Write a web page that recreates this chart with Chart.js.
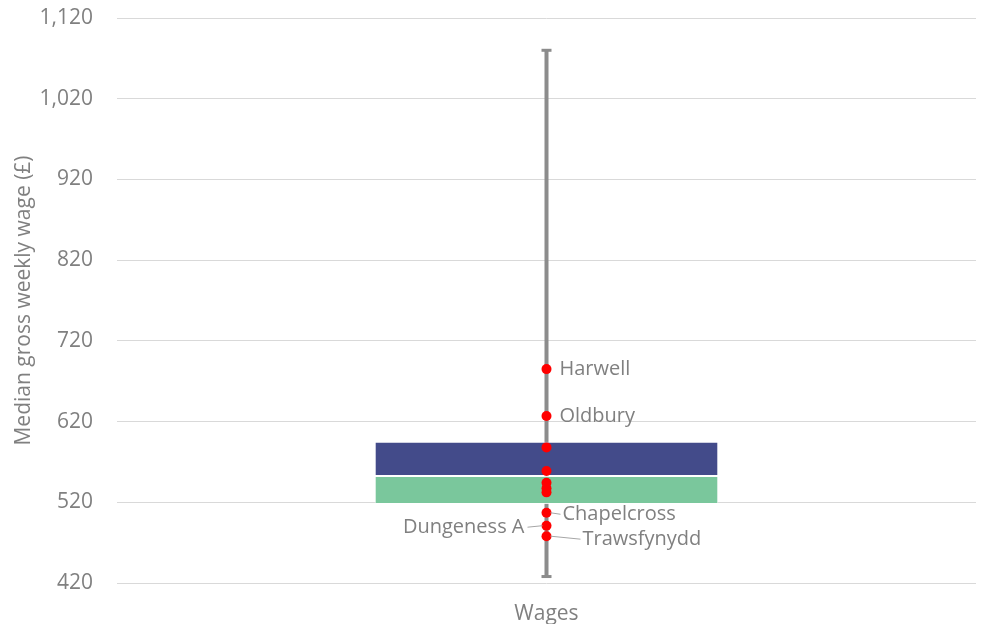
<!DOCTYPE html>
<html>
<head>
<meta charset="utf-8">
<script src="https://cdn.jsdelivr.net/npm/chart.js@4.4.1/dist/chart.umd.min.js"></script>
<style>
    html, body { margin: 0; padding: 0; background: #ffffff; }
    #wrap { width: 983px; height: 626px; position: relative; }
</style>
</head>
<body>
<div id="wrap"><canvas id="wages-chart"></canvas></div>
<script>
    // Data
    const categories = ['Wages'];
    const whiskerLow = 428;
    const whiskerHigh = 1080;
    const quartile1 = 518;
    const medianWage = 552.5;
    const quartile3 = 595;
    const siteWages = [685, 627, 588, 558.7, 544.2, 537.3, 532.3, 507, 491, 478];
    const siteNames = ['Harwell', 'Oldbury', '', '', '', '', '', 'Chapelcross', 'Dungeness A', 'Trawsfynydd'];
    const yTicksMin = 420;
    const yTicksMax = 1120;
    const yTicksStep = 100;

    const textGrey = '#808080';
    const fontFamily = '"Open Sans", sans-serif';

    // Where each site label sits relative to its point
    const labelPlacement = {
        'Harwell': { dx: 13, dy: 0, align: 'left', leader: false },
        'Oldbury': { dx: 13, dy: 0, align: 'left', leader: false },
        'Chapelcross': { dx: 16, dy: 1.5, align: 'left', leader: true },
        'Dungeness A': { dx: -22, dy: 1.5, align: 'right', leader: true },
        'Trawsfynydd': { dx: 36, dy: 3, align: 'left', leader: true }
    };

    const siteLabelPlugin = {
        id: 'siteLabels',
        afterDatasetsDraw(chart) {
            const meta = chart.getDatasetMeta(0);
            const ctx = chart.ctx;
            ctx.save();
            ctx.font = '20px ' + fontFamily;
            ctx.fillStyle = textGrey;
            ctx.textBaseline = 'middle';
            siteNames.forEach((name, i) => {
                if (!name) return;
                const pt = meta.data[i];
                const place = labelPlacement[name];
                const tx = pt.x + place.dx;
                const ty = pt.y + place.dy;
                if (place.leader) {
                    ctx.strokeStyle = '#a6a6a6';
                    ctx.lineWidth = 1;
                    ctx.beginPath();
                    if (place.align === 'left') {
                        ctx.moveTo(pt.x + 4, pt.y);
                        ctx.lineTo(tx - 2, ty);
                    } else {
                        ctx.moveTo(pt.x - 4, pt.y);
                        ctx.lineTo(tx + 3, ty);
                    }
                    ctx.stroke();
                }
                ctx.textAlign = place.align;
                ctx.fillText(name, tx, ty);
            });
            ctx.restore();
        }
    };

    const ctx = document.getElementById('wages-chart').getContext('2d');
    new Chart(ctx, {
        type: 'bar',
        data: {
            labels: categories,
            datasets: [
                {
                    type: 'line',
                    label: 'Sites',
                    data: siteWages.map(v => ({ x: categories[0], y: v })),
                    showLine: false,
                    pointRadius: 5,
                    pointBorderWidth: 0,
                    pointBackgroundColor: '#ff0000',
                    pointBorderColor: '#ff0000',
                    order: 0
                },
                {
                    label: 'Upper',
                    data: [[medianWage, quartile3]],
                    backgroundColor: '#434b8a',
                    borderColor: 'rgba(255,255,255,0.85)',
                    borderWidth: 1,
                    borderSkipped: false,
                    grouped: false,
                    order: 1
                },
                {
                    label: 'Lower',
                    data: [[quartile1, medianWage]],
                    backgroundColor: '#7ac79c',
                    borderColor: 'rgba(255,255,255,0.85)',
                    borderWidth: 1,
                    borderSkipped: false,
                    grouped: false,
                    order: 1
                },
                {
                    type: 'line',
                    label: 'Range',
                    data: [
                        { x: categories[0], y: whiskerLow },
                        { x: categories[0], y: whiskerHigh }
                    ],
                    borderColor: '#8c8c8c',
                    borderWidth: 4,
                    pointStyle: 'line',
                    pointRadius: 5,
                    pointBorderWidth: 3,
                    pointBorderColor: '#8c8c8c',
                    order: 2
                }
            ]
        },
        options: {
            responsive: true,
            maintainAspectRatio: false,
            animation: false,
            categoryPercentage: 1,
            barPercentage: 0.4,
            layout: {
                autoPadding: false,
                padding: { left: 11, right: 7, top: 18, bottom: 2 }
            },
            plugins: {
                legend: { display: false },
                tooltip: { enabled: false }
            },
            scales: {
                x: {
                    grid: { display: false },
                    border: { display: false },
                    ticks: {
                        color: textGrey,
                        font: { family: fontFamily, size: 21 },
                        padding: 10
                    },
                    afterFit(scale) {
                        scale.height = 41;
                    }
                },
                y: {
                    min: yTicksMin,
                    max: yTicksMax,
                    grid: {
                        color: '#d9d9d9',
                        lineWidth: 1,
                        drawTicks: false
                    },
                    border: { display: false },
                    ticks: {
                        stepSize: yTicksStep,
                        color: textGrey,
                        font: { family: fontFamily, size: 21 },
                        padding: 24
                    },
                    title: {
                        display: true,
                        text: 'Median gross weekly wage (£)',
                        color: textGrey,
                        font: { family: fontFamily, size: 21 },
                        padding: { top: 0, bottom: 4 }
                    },
                    afterFit(scale) {
                        scale.width = 106;
                        scale.paddingTop = 0;
                        scale.paddingBottom = 0;
                    }
                }
            }
        },
        plugins: [siteLabelPlugin]
    });
</script>
</body>
</html>
